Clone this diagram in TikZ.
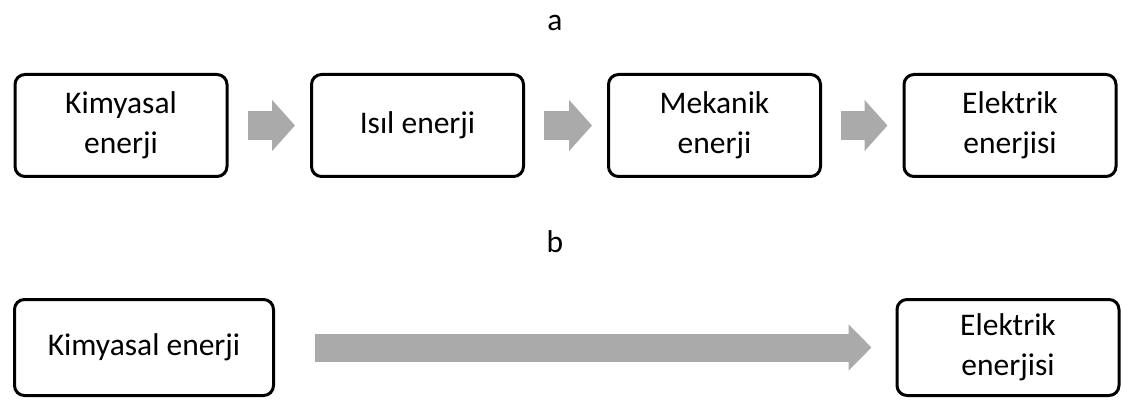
\documentclass[tikz,border=0pt]{standalone}
\usepackage{fontspec}
\setmainfont{Carlito}
\usetikzlibrary{arrows.meta}
\definecolor{arrowgray}{HTML}{AAAAAA}
\begin{document}
\begin{tikzpicture}[x=1pt,y=-1pt,
  txt/.style={font=\fontsize{31.5}{40}\selectfont},
  box/.style={txt, draw=black, line width=3pt, rounded corners=10pt,
    minimum width=212pt, minimum height=102pt, align=center, inner sep=0pt},
  flow/.style={draw=arrowgray, line width=29pt,
    -{Triangle[length=23pt,width=50pt]}, shorten <=19pt, shorten >=15pt},
  longflow/.style={draw=arrowgray, line width=28pt,
    -{Triangle[length=23pt,width=45pt]}, shorten <=40pt, shorten >=24pt}
]
\useasboundingbox (0,0) rectangle (1122,401);
\node[txt] (la) at (555,23) {a};
\node[txt] (lb) at (555,242) {b};
\node[box] (k1) at (121,125.5) {Kimyasal\\enerji};
\node[box] (i1) at (417.5,125.5) {Isıl enerji};
\node[box] (m1) at (714.5,125.5) {Mekanik\\enerji};
\node[box] (e1) at (1010,125.5) {Elektrik\\enerjisi};
\draw[flow] (k1.east) -- (i1.west);
\draw[flow] (i1.east) -- (m1.west);
\draw[flow] (m1.east) -- (e1.west);
\node[box, minimum width=259pt, minimum height=96pt] (k2) at (144,347.5) {Kimyasal enerji};
\node[box, minimum width=222pt, minimum height=96pt] (e2) at (1008,347.5) {Elektrik\\enerjisi};
\draw[longflow] (k2.east) -- (e2.west);
\end{tikzpicture}
\end{document}
